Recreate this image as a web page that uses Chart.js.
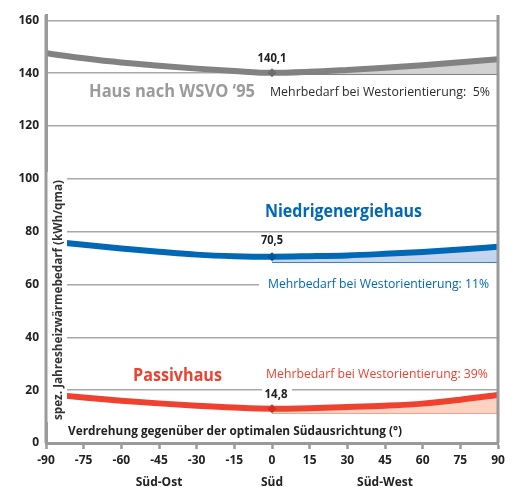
<!DOCTYPE html>
<html>
<head>
<meta charset="utf-8">
<script src="https://cdn.jsdelivr.net/npm/chart.js@4.4.0/dist/chart.umd.min.js"></script>
<style>
  body { margin: 0; background: #fff; }
  canvas { display: block; }
</style>
</head>
<body>
<canvas id="chart" width="515" height="487"></canvas>
<script>
// ---------------- DATA ----------------
// Verdrehung gegenüber Süd (Grad)
const angles = [-90, -75, -60, -45, -30, -15, 0, 15, 30, 45, 60, 75, 90];
const wsvoValues = [147.5, 145.6, 144.0, 142.8, 141.7, 140.8, 140.1, 140.5, 141.2, 142.0, 143.0, 144.1, 145.3];
const negValues = [76.5, 75.0, 73.6, 72.4, 71.3, 70.7, 70.5, 70.7, 71.0, 71.6, 72.3, 73.2, 74.3];
const passivValues = [18.6, 17.2, 16.0, 15.0, 14.1, 13.4, 13.0, 13.2, 13.6, 14.1, 14.9, 16.4, 18.2];
// untere Kante der Mehrbedarf-Fläche (Süd-Wert)
const baseValues = [139.6, 68.4, 11.4];
const southLabels = ['140,1', '70,5', '14,8'];
const seriesNames = ['Haus nach WSVO \u201895', 'Niedrigenergiehaus', 'Passivhaus'];
const extraLabels = [
  'Mehrbedarf bei Westorientierung:  5%',
  'Mehrbedarf bei Westorientierung: 11%',
  'Mehrbedarf bei Westorientierung: 39%'
];
const directionLabels = { '-45': 'Süd-Ost', '0': 'Süd', '45': 'Süd-West' };
const yTitle = 'spez. Jahresheizwärmebedarf (kWh/qma)';
const xTitle = 'Verdrehung gegenüber der optimalen Südausrichtung (°)';

const lineColors = ['#828282', '#0068b4', '#ee4130'];
const fillColors = ['#d2d2d2', '#c6d5ee', '#fcd2c1'];
const markColors = ['#6e6e6e', '#00559a', '#d42e20'];
const FONT = '"Open Sans", "DejaVu Sans", sans-serif';

function points(values) {
  return angles.map((a, i) => ({ x: a, y: values[i] }));
}
function westPoints(values) {
  return points(values).filter(p => p.x >= 0);
}
function basePoints(v) {
  return angles.filter(a => a >= 0).map(a => ({ x: a, y: v }));
}

const allValues = [wsvoValues, negValues, passivValues];

// main lines first -> drawn on top
const datasets = allValues.map((vals, i) => ({
  data: points(vals),
  borderColor: lineColors[i],
  borderWidth: 6,
  cubicInterpolationMode: 'monotone',
  fill: false,
  pointStyle: 'rectRot',
  pointRadius: ctx => (ctx.raw && ctx.raw.x === 0 ? 4.5 : 0),
  pointBackgroundColor: markColors[i],
  pointBorderWidth: 0
}));

allValues.forEach((vals, i) => {
  const baseIndex = datasets.length + 1;
  datasets.push({
    data: westPoints(vals),
    borderWidth: 0,
    borderColor: 'transparent',
    backgroundColor: fillColors[i],
    cubicInterpolationMode: 'monotone',
    fill: baseIndex,
    pointRadius: 0
  });
  datasets.push({
    data: basePoints(baseValues[i]),
    borderColor: i === 0 ? '#333' : lineColors[i],
    borderWidth: 1.2,
    fill: false,
    pointRadius: 0
  });
});

// ---------------- TEXT HELPERS ----------------
function drawText(ctx, text, x, y, o) {
  ctx.save();
  ctx.font = (o.weight || 'normal') + ' ' + o.size + 'px ' + FONT;
  ctx.fillStyle = o.color;
  ctx.textBaseline = 'middle';
  ctx.textAlign = 'left';
  const w = ctx.measureText(text).width;
  const sx = o.width ? o.width / w : 1;
  ctx.translate(x, y);
  if (o.rotate) ctx.rotate(o.rotate);
  ctx.scale(sx, 1);
  ctx.fillText(text, o.center ? -w / 2 : 0, 0);
  ctx.restore();
}

const notes = {
  id: 'notes',
  afterDatasetsDraw(chart) {
    const { ctx, chartArea, scales } = chart;
    const x = scales.x;
    const y = scales.y;
    const x0 = x.getPixelForValue(0);
    ctx.save();

    // gaps in gridlines behind texts
    ctx.fillStyle = '#fff';
    ctx.fillRect(chartArea.left, 172, 21, 250);       // y title
    ctx.fillRect(259, y.getPixelForValue(60) - 5, chartArea.right - 260, 10);
    ctx.fillRect(262, y.getPixelForValue(20) - 3, 30, 6);

    // left axis and right border
    ctx.strokeStyle = '#9a9a9a';
    ctx.lineWidth = 3;
    ctx.beginPath();
    ctx.moveTo(chartArea.left, chartArea.top);
    ctx.lineTo(chartArea.left, chartArea.bottom);
    ctx.moveTo(chartArea.right, chartArea.top);
    ctx.lineTo(chartArea.right, chartArea.bottom);
    ctx.stroke();
    ctx.restore();

    drawText(ctx, yTitle, 59, 300, { size: 12, weight: 'bold', color: '#333', width: 240, center: true, rotate: -Math.PI / 2 });
    drawText(ctx, xTitle, 68, 431.5, { size: 12.5, weight: 'bold', color: '#222', width: 334 });

    drawText(ctx, seriesNames[0], 89, 92.5, { size: 17, weight: 'bold', color: '#9b9b9b', width: 166 });
    drawText(ctx, seriesNames[1], 265, 212, { size: 17, weight: 'bold', color: lineColors[1], width: 157 });
    drawText(ctx, seriesNames[2], 133, 376, { size: 18, weight: 'bold', color: lineColors[2], width: 89 });

    drawText(ctx, extraLabels[0], 270, 92, { size: 12.5, color: '#2b2b2b', width: 220 });
    drawText(ctx, extraLabels[1], 268, 284.5, { size: 12.5, color: lineColors[1], width: 221 });
    drawText(ctx, extraLabels[2], 266, 374.5, { size: 12.5, color: lineColors[2], width: 222 });

    drawText(ctx, southLabels[0], x0, 58.5, { size: 11.5, weight: 'bold', color: '#222', width: 29, center: true });
    drawText(ctx, southLabels[1], x0, 241, { size: 11.5, weight: 'bold', color: '#222', width: 22, center: true });
    drawText(ctx, southLabels[2], x0 + 4, 395, { size: 11.5, weight: 'bold', color: '#222', width: 23, center: true });
  }
};

// ---------------- CHART ----------------
new Chart(document.getElementById('chart'), {
  type: 'line',
  data: { datasets: datasets },
  options: {
    responsive: false,
    animation: false,
    layout: { padding: { top: 15, right: 17, left: 0, bottom: 0 } },
    plugins: {
      legend: { display: false },
      tooltip: { enabled: false }
    },
    scales: {
      x: {
        type: 'linear',
        min: -90,
        max: 90,
        afterFit: s => { s.height = 44; },
        border: { color: '#9a9a9a', width: 3 },
        grid: {
          drawOnChartArea: false,
          drawTicks: true,
          tickLength: 6,
          tickColor: '#9a9a9a',
          tickWidth: 2.5
        },
        ticks: {
          stepSize: 15,
          padding: 0,
          autoSkip: false,
          maxRotation: 0,
          minRotation: 0,
          color: '#222',
          font: { family: FONT, size: 12, weight: 'bold', lineHeight: 1.85 },
          callback: v => (directionLabels[String(v)] ? [String(v), directionLabels[String(v)]] : String(v))
        }
      },
      y: {
        min: 0,
        max: 162,
        afterFit: s => { s.width = 46; },
        border: { color: '#9a9a9a', width: 3 },
        grid: { color: '#a8a8a8', lineWidth: 1.5, drawTicks: false },
        ticks: {
          stepSize: 20,
          includeBounds: false,
          padding: 7,
          color: '#222',
          font: { family: FONT, size: 12, weight: 'bold' }
        }
      }
    }
  },
  plugins: [notes]
});
</script>
</body>
</html>
